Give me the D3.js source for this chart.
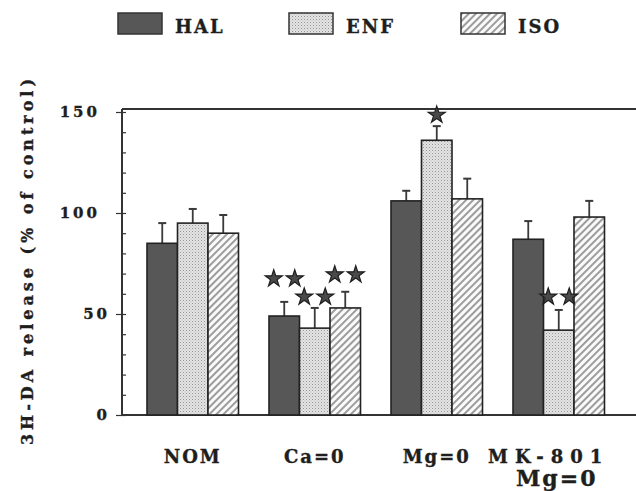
<!DOCTYPE html>
<html>
<head>
<meta charset="utf-8">
<script src="https://cdn.jsdelivr.net/npm/d3@7"></script>
<style>
  body { margin: 0; background: #fff; }
  text { font-family: "DejaVu Serif", serif; font-weight: bold; fill: #1e1e1e; stroke: #1e1e1e; stroke-width: 0.35px; }
</style>
</head>
<body>
<div class="chart"></div>
<script>
// Data
var groups = ["NOM", "Ca=0", "Mg=0", "MK-801"];
var groupSub = ["", "", "", "Mg=0"];
var series = ["HAL", "ENF", "ISO"];
var halMean = [85, 49, 106, 87];
var halErr = [10, 7, 5, 9];
var enfMean = [95, 43, 136, 42];
var enfErr = [7, 10, 7, 10];
var isoMean = [90, 53, 107, 98];
var isoErr = [9, 8, 10, 8];
var yTicks = [0, 50, 100, 150];
// significance stars: group, series, count, level (in % units)
var starGroup = ["Ca=0", "Ca=0", "Ca=0", "Mg=0", "MK-801"];
var starSeries = ["HAL", "ENF", "ISO", "ENF", "ENF"];
var starCount = [2, 2, 2, 1, 2];
var starLevel = [68, 59, 70, 149, 59];

var svgWidth = 636;
var svgHeight = 491;

var svg = d3.select(".chart")
    .append("svg")
    .attr("width", svgWidth)
    .attr("height", svgHeight);

// Fill patterns
var defs = svg.append("defs");

var dots = defs.append("pattern")
    .attr("id", "dots")
    .attr("width", 3)
    .attr("height", 3)
    .attr("patternUnits", "userSpaceOnUse");
dots.append("rect").attr("width", 3).attr("height", 3).attr("fill", "#e4e4e4");
dots.append("rect").attr("width", 1).attr("height", 1).attr("fill", "#959595");
dots.append("rect").attr("x", 1.5).attr("y", 1.5).attr("width", 1).attr("height", 1).attr("fill", "#b5b5b5");

var hatch = defs.append("pattern")
    .attr("id", "hatch")
    .attr("width", 5)
    .attr("height", 5)
    .attr("patternUnits", "userSpaceOnUse")
    .attr("patternTransform", "rotate(45)");
hatch.append("rect").attr("width", 5).attr("height", 5).attr("fill", "#fafafa");
hatch.append("line")
    .attr("x1", 1).attr("y1", 0).attr("x2", 1).attr("y2", 5)
    .attr("stroke", "#6a6a6a")
    .attr("stroke-width", 1.3);

var fills = {HAL: "#575757", ENF: "url(#dots)", ISO: "url(#hatch)"};
var means = {HAL: halMean, ENF: enfMean, ISO: isoMean};
var errs = {HAL: halErr, ENF: enfErr, ISO: isoErr};

// Scales
var x0 = d3.scaleBand()
    .domain(groups)
    .range([131.75, 619.75])
    .paddingInner(0.25)
    .paddingOuter(0.125);

var x1 = d3.scaleBand()
    .domain(series)
    .range([0, x0.bandwidth()]);

var y = d3.scaleLinear()
    .domain([0, 150])
    .range([415, 112]);

var left = 122;

// Frame: top and bottom lines
svg.append("line")
    .attr("x1", left).attr("x2", svgWidth)
    .attr("y1", y(151.5)).attr("y2", y(151.5))
    .attr("stroke", "#333").attr("stroke-width", 2);
svg.append("line")
    .attr("x1", left).attr("x2", svgWidth)
    .attr("y1", y(0)).attr("y2", y(0))
    .attr("stroke", "#333").attr("stroke-width", 2);

// Minor ticks inside, every 10
var minorAxis = d3.axisLeft(y)
    .tickValues(d3.range(0, 151, 10))
    .tickSize(-4)
    .tickFormat("");
svg.append("g")
    .attr("transform", `translate(${left},0)`)
    .call(minorAxis)
    .call(g => g.select(".domain").remove())
    .selectAll("line").attr("stroke", "#333").attr("stroke-width", 1.2);

// Major ticks and labels
var majorAxis = d3.axisLeft(y)
    .tickValues(yTicks)
    .tickSize(6)
    .tickPadding(18);
var yAxisG = svg.append("g")
    .attr("transform", `translate(${left},0)`)
    .call(majorAxis);
yAxisG.select(".domain")
    .attr("d", `M0,${y(0)}V${y(151.5)}`)
    .attr("stroke", "#333").attr("stroke-width", 2);
yAxisG.selectAll(".tick line").attr("stroke", "#333").attr("stroke-width", 1.2);
yAxisG.selectAll(".tick text")
    .attr("x", d => d < 100 ? -12 : -22)
    .style("font-family", "'DejaVu Serif', serif")
    .style("font-weight", "bold")
    .style("font-size", "15px")
    .style("letter-spacing", "3px")
    .attr("fill", "#1e1e1e");

// Bars
var barData = [];
groups.forEach(function(g, i) {
    series.forEach(function(s) {
        barData.push({group: g, series: s, value: means[s][i], err: errs[s][i]});
    });
});

var barG = svg.append("g");

// Error bars (upper only)
barG.selectAll("line.err")
    .data(barData)
    .enter()
    .append("line")
    .attr("class", "err")
    .attr("x1", d => x0(d.group) + x1(d.series) + x1.bandwidth() / 2)
    .attr("x2", d => x0(d.group) + x1(d.series) + x1.bandwidth() / 2)
    .attr("y1", d => y(d.value))
    .attr("y2", d => y(d.value + d.err))
    .attr("stroke", "#3a3a3a")
    .attr("stroke-width", 1.8);

barG.selectAll("line.cap")
    .data(barData)
    .enter()
    .append("line")
    .attr("class", "cap")
    .attr("x1", d => x0(d.group) + x1(d.series) + x1.bandwidth() / 2 - 4)
    .attr("x2", d => x0(d.group) + x1(d.series) + x1.bandwidth() / 2 + 4)
    .attr("y1", d => y(d.value + d.err))
    .attr("y2", d => y(d.value + d.err))
    .attr("stroke", "#3a3a3a")
    .attr("stroke-width", 2);

barG.selectAll("rect")
    .data(barData)
    .enter()
    .append("rect")
    .attr("x", d => x0(d.group) + x1(d.series))
    .attr("y", d => y(d.value))
    .attr("width", x1.bandwidth())
    .attr("height", d => y(0) - y(d.value))
    .attr("fill", d => fills[d.series])
    .attr("stroke", "#222")
    .attr("stroke-width", 1.6);

// Stars
var starData = [];
starGroup.forEach(function(g, i) {
    var cx = x0(g) + x1(starSeries[i]) + x1.bandwidth() / 2;
    for (var k = 0; k < starCount[i]; k++) {
        var off = (k - (starCount[i] - 1) / 2) * 21;
        starData.push({x: cx + off, level: starLevel[i]});
    }
});

svg.selectAll("path.star")
    .data(starData)
    .enter()
    .append("path")
    .attr("class", "star")
    .attr("d", d3.symbol().type(d3.symbolStar).size(90))
    .attr("transform", d => `translate(${d.x},${y(d.level) + 1})`)
    .attr("fill", "#4a4a4a")
    .attr("stroke", "#1e1e1e")
    .attr("stroke-width", 1.2);

// Group labels
svg.selectAll("text.group")
    .data(groups)
    .enter()
    .append("text")
    .attr("class", "group")
    .attr("x", d => x0(d) + x0.bandwidth() / 2)
    .attr("dx", d => d == "MK-801" ? -10 : 0)
    .attr("y", 463)
    .attr("text-anchor", "middle")
    .style("font-size", "18px")
    .style("letter-spacing", d => d == "MK-801" ? "7px" : "2px")
    .text(d => d);

svg.selectAll("text.sub")
    .data(groupSub)
    .enter()
    .append("text")
    .attr("class", "sub")
    .attr("x", (d, i) => x0(groups[i]) + x0.bandwidth() / 2)
    .attr("dx", -2)
    .attr("y", 486)
    .attr("text-anchor", "middle")
    .style("font-size", "22px")
    .style("letter-spacing", "2px")
    .text(d => d);

// Y axis title
svg.append("text")
    .attr("transform", "translate(33, 262) rotate(-90)")
    .attr("text-anchor", "middle")
    .attr("textLength", 366)
    .attr("lengthAdjust", "spacing")
    .style("font-size", "16px")
    .text("3H-DA release (% of control)");

// Legend
var legendX = [118, 289, 461];
var legend = svg.selectAll("g.legend")
    .data(series)
    .enter()
    .append("g")
    .attr("class", "legend")
    .attr("transform", (d, i) => `translate(${legendX[i]}, 13)`);

legend.append("rect")
    .attr("width", 44)
    .attr("height", 21)
    .attr("fill", d => fills[d])
    .attr("stroke", "#333")
    .attr("stroke-width", 1.5);

legend.append("text")
    .attr("x", 57)
    .attr("y", 20)
    .style("font-size", "18px")
    .style("letter-spacing", "2px")
    .text(d => d);
</script>
</body>
</html>
